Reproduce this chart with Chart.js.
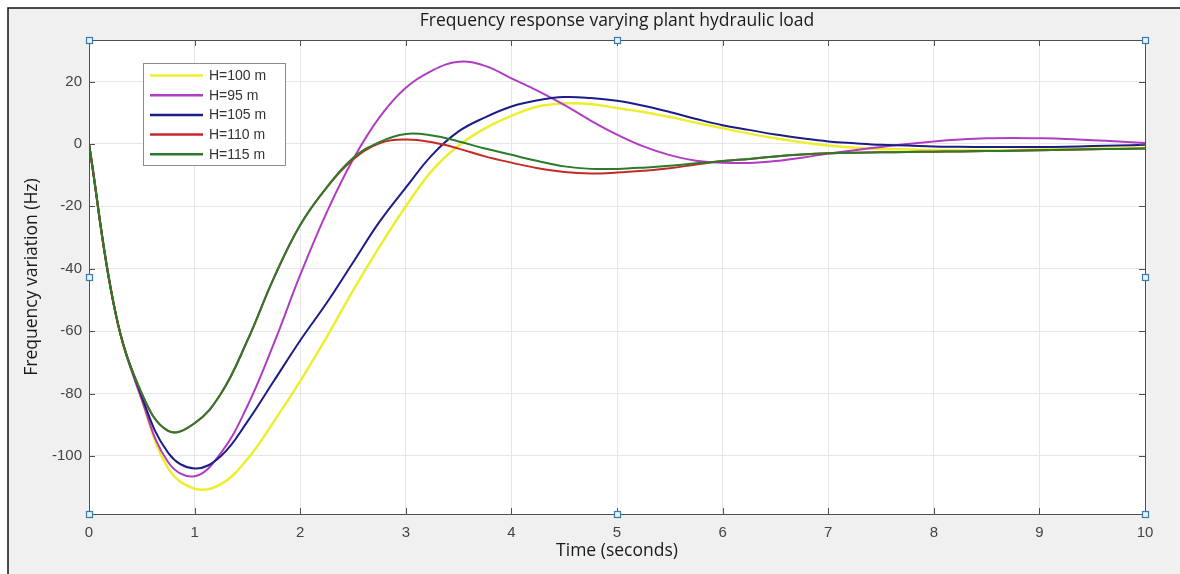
<!DOCTYPE html>
<html>
<head>
<meta charset="utf-8">
<script src="https://cdn.jsdelivr.net/npm/chart.js@4.4.1/dist/chart.umd.min.js"></script>
<style>
    html, body { margin: 0; padding: 0; background: #fff; }
</style>
</head>
<body>
<canvas id="myChart" width="1180" height="574"></canvas>
<script>
// time samples (s)
const times = [0, 0.25, 0.5, 0.75, 1, 1.25, 1.5, 1.75, 2, 2.25, 2.5, 2.75, 3, 3.25, 3.5, 3.75,
    4, 4.25, 4.5, 4.75, 5, 5.25, 5.5, 5.75, 6, 6.25, 6.5, 6.75, 7, 7.25, 7.5, 7.75,
    8, 8.25, 8.5, 8.75, 9, 9.25, 9.5, 9.75, 10];

const h100 = [0, -54, -82, -104, -110.5, -109, -101, -89, -76, -62, -47, -33, -20, -8.5, -0.5, 5,
    9, 12, 13, 12.8, 11.5, 10.2, 8.6, 6.8, 5, 3.3, 1.8, 0.5, -0.5, -1.2, -1.6, -1.8,
    -2, -2, -2, -2, -1.8, -1.7, -1.5, -1.4, -1.3];
const h95 = [0, -54, -82, -102, -106.5, -99, -84, -64, -42, -22, -5, 8.5, 18, 23.5, 26.3, 25,
    21, 17, 12.5, 7.5, 3, -0.8, -3.6, -5.4, -6, -6.1, -5.5, -4.4, -3.1, -2, -1, 0,
    0.8, 1.4, 1.8, 1.9, 1.8, 1.6, 1.2, 0.8, 0.3];
const h105 = [0, -54, -81, -99, -104, -100, -89, -76, -63, -51, -38, -25, -14, -3.5, 4, 8.5,
    12, 14, 15, 14.7, 13.8, 12.2, 10.2, 8, 6, 4.5, 3, 1.8, 0.8, 0.2, -0.3, -0.5,
    -0.8, -0.9, -1, -1, -1, -0.9, -0.7, -0.5, -0.3];
const h110 = [0, -54, -80, -92, -89.5, -80, -63, -43, -26, -14, -5, 0.2, 1.4, 0.5, -1.5, -4,
    -6, -7.8, -9, -9.5, -9.2, -8.6, -7.8, -6.6, -5.5, -4.8, -4, -3.4, -3, -2.8, -2.7, -2.6,
    -2.5, -2.4, -2.3, -2.2, -2, -1.9, -1.7, -1.6, -1.5];
const h115 = [0, -54, -80, -92, -89.5, -80, -63, -43, -26, -14, -4.5, 0.6, 3.2, 2.7, 0.8, -1.5,
    -3.5, -5.5, -7.2, -8, -8, -7.6, -7, -6.2, -5.5, -4.8, -4, -3.4, -3, -2.8, -2.7, -2.6,
    -2.5, -2.4, -2.3, -2.2, -2, -1.9, -1.7, -1.6, -1.5];

const xTicks = [0, 1, 2, 3, 4, 5, 6, 7, 8, 9, 10];
const yTicks = [-100, -80, -60, -40, -20, 0, 20];

function pts(values) {
    return times.map((t, i) => ({ x: t, y: values[i] }));
}

function series(label, values, color, width, order) {
    return {
        label: label,
        data: pts(values),
        borderColor: color,
        backgroundColor: color,
        borderWidth: width,
        pointRadius: 0,
        fill: false,
        tension: 0.4,
        order: order
    };
}

const data = {
    datasets: [
        series('H=100 m', h100, '#eeee30', 2.5, 5),
        series('H=95 m', h95, '#b03cc4', 2, 4),
        series('H=105 m', h105, '#1c1c86', 2, 3),
        series('H=110 m', h110, '#c62a26', 2, 2),
        series('H=115 m', h115, '#2c7a2c', 2, 1),
    ]
};

// figure background, outer frame, white plot area
const backdrop = {
    id: 'backdrop',
    beforeDraw(chart) {
        const ctx = chart.ctx;
        const a = chart.chartArea;
        ctx.save();
        ctx.fillStyle = '#ffffff';
        ctx.fillRect(0, 0, chart.width, chart.height);
        ctx.fillStyle = '#f0f0f0';
        ctx.fillRect(8, 8, chart.width - 8, chart.height - 8);
        ctx.strokeStyle = '#111';
        ctx.lineWidth = 1.5;
        ctx.beginPath();
        ctx.moveTo(8, chart.height);
        ctx.lineTo(8, 8);
        ctx.lineTo(chart.width, 8);
        ctx.stroke();
        ctx.fillStyle = '#ffffff';
        ctx.fillRect(a.left, a.top, a.right - a.left, a.bottom - a.top);
        ctx.restore();
    }
};

// axes box, inner ticks, legend, selection handles
const decorations = {
    id: 'decorations',
    afterDraw(chart) {
        const ctx = chart.ctx;
        const a = chart.chartArea;
        const xs = chart.scales.x;
        const ys = chart.scales.y;
        ctx.save();

        ctx.strokeStyle = '#505050';
        ctx.lineWidth = 1;
        ctx.strokeRect(a.left + 0.5, a.top + 0.5, a.right - a.left, a.bottom - a.top);

        ctx.beginPath();
        xTicks.forEach(v => {
            const px = Math.round(xs.getPixelForValue(v)) + 0.5;
            ctx.moveTo(px, a.bottom);
            ctx.lineTo(px, a.bottom - 6);
            ctx.moveTo(px, a.top);
            ctx.lineTo(px, a.top + 6);
        });
        yTicks.forEach(v => {
            const py = Math.round(ys.getPixelForValue(v)) + 0.5;
            ctx.moveTo(a.left, py);
            ctx.lineTo(a.left + 6, py);
            ctx.moveTo(a.right, py);
            ctx.lineTo(a.right - 6, py);
        });
        ctx.stroke();

        // legend
        const lx = a.left + 54, ly = a.top + 23, lw = 142, lh = 102;
        ctx.fillStyle = '#ffffff';
        ctx.fillRect(lx, ly, lw, lh);
        ctx.strokeStyle = '#8c8c8c';
        ctx.strokeRect(lx + 0.5, ly + 0.5, lw, lh);
        ctx.font = '14px "Liberation Sans", Arial, sans-serif';
        ctx.textBaseline = 'middle';
        ctx.textAlign = 'left';
        chart.data.datasets.forEach((ds, i) => {
            const ry = ly + 12.5 + i * 19.7;
            ctx.strokeStyle = ds.borderColor;
            ctx.lineWidth = 2.5;
            ctx.beginPath();
            ctx.moveTo(lx + 7, ry);
            ctx.lineTo(lx + 60, ry);
            ctx.stroke();
            ctx.fillStyle = '#333333';
            ctx.fillText(ds.label, lx + 66, ry + 0.5);
        });

        // selection handles
        const cx = (a.left + a.right) / 2, cy = (a.top + a.bottom) / 2;
        const handles = [[a.left, a.top], [cx, a.top], [a.right, a.top], [a.left, cy],
            [a.right, cy], [a.left, a.bottom], [cx, a.bottom], [a.right, a.bottom]];
        ctx.lineWidth = 1.2;
        ctx.strokeStyle = '#3d78a8';
        ctx.fillStyle = '#e6f2fb';
        handles.forEach(h => {
            ctx.fillRect(Math.round(h[0]) - 3, Math.round(h[1]) - 3, 6, 6);
            ctx.strokeRect(Math.round(h[0]) - 2.5, Math.round(h[1]) - 2.5, 6, 6);
        });
        ctx.restore();
    }
};

const tickFont = { family: '"Liberation Sans", Arial, sans-serif', size: 15 };
const labelFont = { family: '"Open Sans", sans-serif', size: 17.5 };

const config = {
    type: 'line',
    data: data,
    options: {
        responsive: false,
        animation: false,
        devicePixelRatio: 1,
        layout: { padding: { left: 0, right: 35, top: 0, bottom: 0 } },
        scales: {
            x: {
                type: 'linear',
                min: 0,
                max: 10,
                afterBuildTicks: s => { s.ticks = xTicks.map(v => ({ value: v })); },
                afterFit: s => { s.height = 60; },
                grid: { color: '#e6e6e6', drawTicks: false },
                border: { display: false },
                ticks: { font: tickFont, color: '#444', padding: 10, maxRotation: 0 },
                title: {
                    display: true,
                    text: 'Time (seconds)',
                    font: labelFont,
                    color: '#1a1a1a',
                    padding: { top: 0, bottom: 12 }
                }
            },
            y: {
                min: -118.6,
                max: 33.3,
                afterBuildTicks: s => { s.ticks = yTicks.map(v => ({ value: v })); },
                afterFit: s => { s.width = 89; },
                grid: { color: '#e6e6e6', drawTicks: false },
                border: { display: false },
                ticks: { font: tickFont, color: '#444', padding: 7 },
                title: {
                    display: true,
                    text: 'Frequency variation (Hz)',
                    font: labelFont,
                    color: '#1a1a1a',
                    padding: { top: 22, bottom: 0 }
                }
            }
        },
        plugins: {
            legend: { display: false },
            tooltip: { enabled: false },
            title: {
                display: true,
                fullSize: false,
                text: 'Frequency response varying plant hydraulic load',
                font: { family: '"Open Sans", sans-serif', size: 17.5, weight: 'normal' },
                color: '#1a1a1a',
                padding: { top: 11, bottom: 8 }
            }
        }
    },
    plugins: [backdrop, decorations]
};

let myChart = new Chart(document.getElementById('myChart'), config);
</script>
</body>
</html>
